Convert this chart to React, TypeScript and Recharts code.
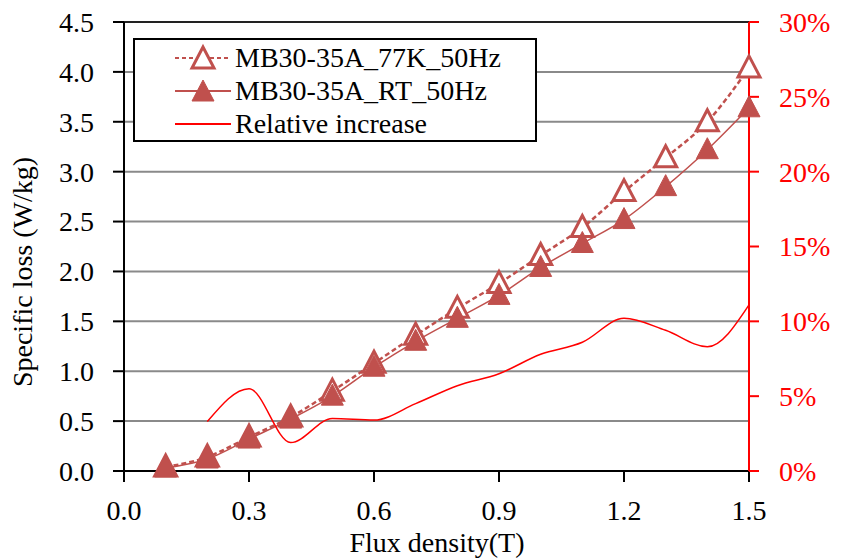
import React from "react";
import { ComposedChart, Line, XAxis, YAxis, CartesianGrid, ReferenceLine } from "recharts";

const flux = [0.1, 0.2, 0.3, 0.4, 0.5, 0.6, 0.7, 0.8, 0.9, 1.0, 1.1, 1.2, 1.3, 1.4, 1.5];
const loss77K = [0.04, 0.14, 0.34, 0.54, 0.8, 1.08, 1.36, 1.63, 1.88, 2.16, 2.44, 2.8, 3.14, 3.5, 4.04];
const lossRT = [0.03, 0.12, 0.32, 0.52, 0.75, 1.04, 1.3, 1.53, 1.76, 2.04, 2.28, 2.52, 2.85, 3.22, 3.64];
const relIncrease = [null, 3.3, 5.5, 1.9, 3.5, 3.4, 4.5, 5.7, 6.5, 7.8, 8.6, 10.2, 9.4, 8.3, 11.1];

const xTicks = [0, 0.3, 0.6, 0.9, 1.2, 1.5];
const leftTicks = [0, 0.5, 1, 1.5, 2, 2.5, 3, 3.5, 4, 4.5];
const rightTicks = [0, 5, 10, 15, 20, 25, 30];

const names = ["MB30-35A_77K_50Hz", "MB30-35A_RT_50Hz", "Relative increase"];

const data = flux.map((x, i) => ({
  x,
  k77: loss77K[i],
  rt: lossRT[i],
  rel: relIncrease[i],
}));

const BROWN = "#C0504D";
const RED = "#FF0000";
const FONT = "'Liberation Serif', 'DejaVu Serif', serif";

const Tri = ({ cx, cy, filled }: { cx: number; cy: number; filled: boolean }) => (
  <polygon
    points={`${cx},${cy - 12} ${cx - 11},${cy + 9} ${cx + 11},${cy + 9}`}
    fill={filled ? BROWN : "#fff"}
    stroke={BROWN}
    strokeWidth={filled ? 1 : 3}
  />
);

const LegendBox = () => (
  <div
    style={{
      position: "absolute",
      left: 133,
      top: 38,
      width: 404,
      height: 104,
      border: "2px solid #000",
      background: "#fff",
      fontFamily: FONT,
      fontSize: 28,
      color: "#000",
      boxSizing: "border-box",
      paddingTop: 1,
    }}
  >
    {names.map((n, i) => (
      <div key={n} style={{ display: "flex", alignItems: "center", height: 33, whiteSpace: "nowrap" }}>
        <svg width={100} height={33}>
          <line
            x1={40}
            x2={96}
            y1={17}
            y2={17}
            stroke={i === 2 ? RED : BROWN}
            strokeWidth={2}
            strokeDasharray={i === 0 ? "4 3" : undefined}
          />
          {i < 2 && <Tri cx={68} cy={18} filled={i === 1} />}
        </svg>
        <span>{n}</span>
      </div>
    ))}
  </div>
);

export default function App() {
  return (
    <div style={{ position: "absolute", left: 0, top: 0, width: 842, height: 560, background: "#fff" }}>
      <ComposedChart width={842} height={560} data={data} margin={{ top: 22, right: 0, bottom: 0, left: 0 }}>
        <CartesianGrid vertical={false} stroke="#8a8a8a" strokeWidth={2} yAxisId="left" />
        <XAxis
          dataKey="x"
          type="number"
          domain={[0, 1.5]}
          ticks={xTicks}
          tickFormatter={(v: number) => v.toFixed(1)}
          height={89}
          stroke="#000"
          strokeWidth={2}
          tickSize={11}
          tickMargin={18}
          tick={{ fill: "#000", fontFamily: FONT, fontSize: 28 }}
          label={{
            content: () => (
              <text x={437} y={552} textAnchor="middle" fill="#000" fontFamily={FONT} fontSize={28}>
                Flux  density(T)
              </text>
            ),
          }}
        />
        <YAxis
          yAxisId="left"
          domain={[0, 4.5]}
          ticks={leftTicks}
          tickFormatter={(v: number) => v.toFixed(1)}
          width={124}
          stroke="#000"
          strokeWidth={2}
          tickSize={11}
          tickMargin={19}
          tick={{ fill: "#000", fontFamily: FONT, fontSize: 28 }}
          label={{
            content: () => (
              <text
                x={32}
                y={272}
                transform="rotate(-90 32 272)"
                textAnchor="middle"
                fill="#000"
                fontFamily={FONT}
                fontSize={28}
              >
                Specific  loss (W/kg)
              </text>
            ),
          }}
        />
        <YAxis
          yAxisId="right"
          orientation="right"
          domain={[0, 30]}
          ticks={rightTicks}
          tickFormatter={(v: number) => `${v}%`}
          width={93}
          stroke={RED}
          strokeWidth={2}
          tickSize={10}
          tickMargin={20}
          tick={{ fill: RED, fontFamily: FONT, fontSize: 28 }}
        />
        <ReferenceLine yAxisId="left" y={4.5} stroke="#222" strokeWidth={2} />
        <Line
          yAxisId="left"
          dataKey="k77"
          name={names[0]}
          type="monotone"
          stroke={BROWN}
          strokeWidth={2.5}
          strokeDasharray="5 3"
          dot={(p: any) => <Tri key={`a${p.index}`} cx={p.cx} cy={p.cy} filled={false} />}
          isAnimationActive={false}
        />
        <Line
          yAxisId="left"
          dataKey="rt"
          name={names[1]}
          type="monotone"
          stroke={BROWN}
          strokeWidth={1.5}
          dot={(p: any) => <Tri key={`b${p.index}`} cx={p.cx} cy={p.cy} filled={true} />}
          isAnimationActive={false}
        />
        <Line
          yAxisId="right"
          dataKey="rel"
          name={names[2]}
          type="monotone"
          stroke={RED}
          strokeWidth={1.5}
          dot={false}
          isAnimationActive={false}
        />
      </ComposedChart>
      <LegendBox />
    </div>
  );
}
